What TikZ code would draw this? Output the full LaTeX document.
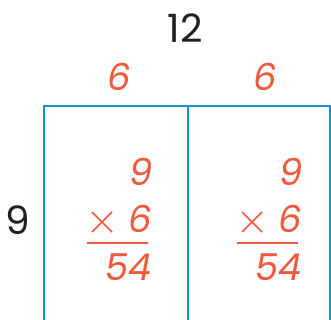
\documentclass[tikz,border=0pt]{standalone}
\usepackage{fontspec}
\setmainfont{Poppins}
\newfontfamily\slfont[FakeSlant=0.18]{Poppins}
\definecolor{redo}{HTML}{F15A3C}
\definecolor{blueb}{HTML}{1493D6}
\definecolor{ink}{HTML}{231F20}
\begin{document}
\begin{tikzpicture}[x=1pt,y=-1pt,
  num/.style={font=\fontsize{39}{39}\selectfont, inner sep=0pt, text=ink},
  rnum/.style={font=\fontsize{37}{37}\slfont, inner sep=0pt, text=redo},
  boxline/.style={draw=blueb, line width=2.2pt},
  rule/.style={draw=redo, line width=1.6pt},
  crossline/.style={draw=redo, line width=1.7pt}]
\useasboundingbox (0,0) rectangle (331,320);
\fill[white] (0,0) rectangle (331,320);
% box
\coordinate (bl) at (44,322);
\coordinate (tl) at (44,106);
\coordinate (tm) at (188,106);
\coordinate (bm) at (188,322);
\coordinate (tr) at (330,106);
\coordinate (br) at (330,322);
\draw[boxline] (bl) -- (tl) -- (tr) -- (br);
\draw[boxline] (tm) -- (bm);
% labels
\node[num] (twelve) at (185,28) {12};
\node[rnum] (sixa) at (117,77) {6};
\node[rnum] (sixb) at (263,77) {6};
\node[num] (nine) at (18,220) {9};
% left computation
\node[rnum, anchor=east] (a9) at (151,172) {9};
\draw[crossline] (92,212) -- (112,232) (92,232) -- (112,212);
\node[rnum, anchor=east] (a6) at (150,219) {6};
\coordinate (al1) at (87,243);
\coordinate (al2) at (148,243);
\draw[rule] (al1) -- (al2);
\node[rnum, anchor=east] (a54) at (150,267) {54};
% right computation
\node[rnum, anchor=east] (b9) at (301,172) {9};
\draw[crossline] (242,212) -- (262,232) (242,232) -- (262,212);
\node[rnum, anchor=east] (b6) at (300,219) {6};
\coordinate (bl1) at (237,243);
\coordinate (bl2) at (298,243);
\draw[rule] (bl1) -- (bl2);
\node[rnum, anchor=east] (b54) at (300,267) {54};
\end{tikzpicture}
\end{document}
